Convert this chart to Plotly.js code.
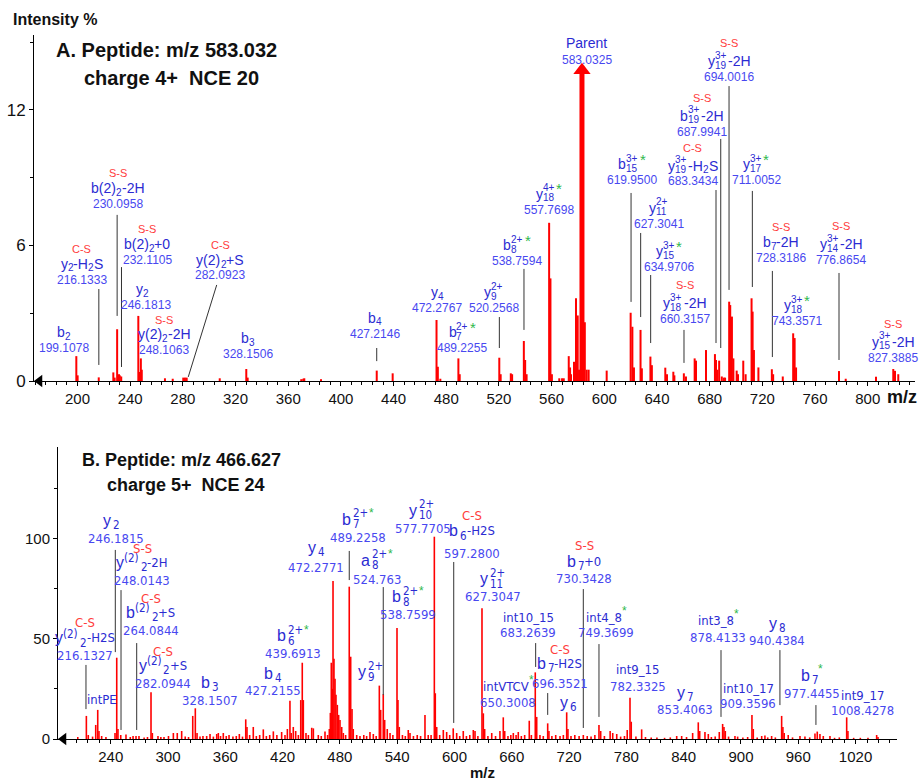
<!DOCTYPE html>
<html><head><meta charset="utf-8">
<script src="https://cdn.plot.ly/plotly-3.0.1.min.js"></script>
<style>body{margin:0;background:#fff}#chart{width:920px;height:783px}</style>
</head><body><div id="chart"></div>
<script>
// ---------------- DATA : panel A (m/z 583.032, 4+, NCE 20) ----------------
const topMz = [199.1,200.1,216.13,227.2,228.2,230.1,231.5,232.1,233.2,246.18,246.8,248.1,248.8,266.4,272.3,280.3,281.6,282.9,308.0,328.15,329.2,369.9,371.4,372.2,384.9,427.2,439.3,472.6,473.6,475.5,489.2,490.2,520.26,521.3,529.0,530.0,538.9,539.9,541.0,558.1,559.1,560.2,565.8,567.9,569.2,573.0,574.0,574.7,577.0,578.5,579.8,580.8,585.2,586.6,588.1,601.8,620.0,621.3,622.5,627.5,628.5,635.0,636.1,646.3,647.6,652.4,653.2,660.4,662.0,668.6,669.6,677.2,684.0,684.8,685.8,687.2,689.2,690.7,691.7,694.8,695.6,696.9,698.0,700.5,701.5,705.5,707.3,711.8,712.6,713.6,717.0,727.2,728.2,735.5,743.4,744.5,745.6,778.2,783.3,806.3,819.4,820.7,823.2];
const topInt = [1.1,0.25,0.16,0.38,0.15,2.29,0.3,0.25,0.2,2.88,0.4,1.0,0.5,0.12,0.1,0.15,0.15,0.15,0.12,0.53,0.15,0.08,0.1,0.12,0.08,0.46,0.34,2.7,0.63,0.1,1.0,0.3,1.03,0.3,0.34,0.3,1.77,0.93,0.3,7.0,4.54,0.3,0.12,0.12,0.12,1.1,0.6,0.3,0.85,3.66,2.9,0.5,2.6,0.5,0.5,0.46,3.02,2.4,0.6,2.26,0.56,1.08,0.7,0.59,0.3,0.41,0.25,0.34,0.2,1.0,0.9,1.37,1.19,0.93,0.5,0.9,0.2,0.15,0.15,3.51,3.36,2.85,1.0,0.46,0.3,0.9,0.3,3.66,3.07,1.37,0.6,0.52,0.3,0.2,2.11,1.9,0.6,0.44,0.1,0.19,0.53,0.45,0.3];
const topParentMz = [583.0325];
const topParentInt = [13.6];
const topPrecursorMz = [583.032];
const topXTicks = [200,240,280,320,360,400,440,480,520,560,600,640,680,720,760,800];
const topYTicks = [0,6,12];

// ---------------- DATA : panel B (m/z 466.627, 5+, NCE 24) ----------------
const botMz = [205.5,214.5,216.5,221.0,224.3,226.4,227.7,230.5,235.0,244.5,246.3,247.6,250.5,256.0,260.5,263.4,266.5,269.6,275.0,278.5,282.2,283.6,289.5,292.5,295.8,300.5,305.6,309.7,314.3,318.0,321.5,325.9,328.6,330.4,333.5,336.6,340.5,344.0,347.5,351.0,352.7,355.0,357.9,361.0,363.9,368.0,371.5,374.7,378.0,381.4,382.7,385.5,389.3,392.5,396.0,399.8,403.0,406.5,410.3,414.0,419.0,422.5,425.0,427.7,429.0,431.2,433.7,436.5,439.0,440.6,441.7,444.5,447.0,450.5,452.2,457.4,460.5,464.4,467.1,468.9,470.0,471.0,472.0,472.8,473.8,474.9,475.9,477.3,478.7,480.1,481.9,483.6,486.0,489.8,491.3,492.7,494.0,497.6,501.0,505.0,508.0,511.5,515.0,518.0,521.3,522.7,525.4,526.9,529.6,532.5,535.5,539.8,540.8,542.2,545.5,548.5,551.6,553.4,557.0,561.0,564.5,569.1,572.5,575.5,578.9,579.9,581.4,584.5,588.3,591.8,595.0,598.7,602.3,605.5,609.2,612.5,616.0,619.7,621.5,624.5,628.8,630.2,631.6,635.0,639.0,643.0,647.6,651.1,652.6,656.0,659.0,661.6,664.5,666.8,670.0,673.5,678.3,680.5,684.6,686.1,689.5,693.0,697.6,698.9,702.0,706.0,710.5,714.0,717.5,718.8,722.0,726.0,730.5,734.9,739.0,743.0,747.0,751.3,753.1,757.0,763.0,765.7,769.9,774.0,778.0,780.9,783.8,785.1,790.0,796.0,800.0,806.0,812.0,820.0,826.0,832.7,837.9,843.0,849.4,855.3,856.8,862.3,865.8,869.0,873.0,877.3,880.8,882.2,883.6,887.0,893.7,896.5,902.0,907.0,911.5,912.9,917.0,921.7,925.1,928.0,932.1,936.0,942.6,943.9,945.3,949.5,954.0,961.8,967.0,972.0,977.5,979.9,982.7,986.2,993.2,998.0,1003.0,1010.7,1012.0,1018.0,1025.0,1033.0,1042.1,1043.5];
const botInt = [1.0,11.5,2,1.2,7,14.5,4,1.5,1.0,3,40.5,5,2,2.3,1.0,1.5,1.5,1.5,0.8,1.0,23.3,3,1.5,1.0,1.0,1.5,3,3,4,1.2,1.0,11.5,15.3,3,1.2,1.5,1.5,2.5,1.2,2.5,3,1.5,3,1.5,2,1.2,1.5,2.5,1.2,9.8,6,2,6,1.5,2,4.8,1.5,2,3.8,2,3.5,2,5,19.1,3,6,4,2,19.4,38,19.4,3,2,5.6,5.3,2,1.5,3.7,2,5,13,38,25,78.7,40,30,22,17,12,9.5,6,3,2,75.9,41,15,5,2,1.5,2,1.5,3.5,2.5,1.5,26.6,14.5,22.3,9.5,5,3,2,55.3,19.4,6,2,1.5,4.5,3,1.5,2,1.5,12,2,2,100.8,22.8,6,2,4.5,3.5,2,5.3,3,1.5,4,1.5,2,4.5,4,1.5,65.1,12.8,5,1.5,3,1.5,4,10.8,4,1.5,2,3,2,3.5,1.5,2,9.1,2,33.2,11,2,1.5,7.8,4,1.5,2,1.5,2,13.3,5,1.5,2,1.5,2,1.5,1.2,2,7,4,1.5,4,3,2.5,1.2,1.5,4.5,20.6,8.6,1.2,4.8,1.0,0.8,0.8,0.6,0.8,1.5,1.5,1.0,3,8.3,4,3.5,2.5,1.0,1.2,3.5,7.5,6,4,1.2,1.5,1.2,0.8,1.0,12,5,0.8,1.5,1.8,0.8,1.5,0.8,11.5,6,3,2,0.8,1.5,1.2,0.8,2.8,3.7,2.5,1.5,1.5,0.6,0.8,10.8,4,0.6,0.6,0.6,2,1];
const botPrecursorMz = [466.627];
const botXTicks = [240,300,360,420,480,540,600,660,720,780,840,900,960,1020];
const botYTicks = [0,50,100];

// ---------------- annotation label specs ----------------
// name tokens: plain = base font, '_x' subscript, '~x' raised small, '.x' small text, '*' green star, [sub,sup] stacked
const topLabels = [
  {name:['b','_2'], num:'199.1078', at:[189.7,1.46]},
  {tag:'C-S', name:['y','_2','-H','_2','S'], num:'216.1333', at:[203.4,4.47], line:[216.2,4.07,0.71]},
  {tag:'S-S', name:['b(2)','_2','-2H'], num:'230.0958', at:[230.75,7.83], line:[230.1,7.35,2.88]},
  {tag:'S-S', name:['b(2)','_2','+0'], num:'232.1105', at:[252.8,5.35], line:[233.4,5.04,0.62]},
  {name:['y','_2'], num:'246.1813', at:[251.9,3.36], nx:-4},
  {tag:'S-S', name:['y(2)','_2','-2H'], num:'248.1063', at:[265.7,1.37], dt:14},
  {tag:'C-S', name:['y(2)','_2','+S'], num:'282.0923', at:[308.2,4.69], dn:15, line:[305.7,4.25,0.18,284.1]},
  {name:['b','_3'], num:'328.1506', at:[329.5,1.19]},
  {name:['b','_4'], num:'427.2146', at:[425.9,2.08], line:[427.2,1.46,0.88]},
  {name:['y','_4'], num:'472.2767', at:[472.9,3.23]},
  {name:['b',['7','2+'],'*'], num:'489.2255', at:[492.0,1.46]},
  {name:['y',['9','2+']], num:'520.2568', at:[516.2,3.23], line:[520.3,2.83,1.46]},
  {name:['b',['8','2+'],'*'], num:'538.7594', at:[533.7,5.31], line:[539.0,4.96,2.26]},
  {name:['y',['18','4+'],'*'], num:'557.7698', at:[558.0,7.57]},
  {name:['Parent'], num:'583.0325', at:[586.9,14.2], dn:17},
  {name:['b',['15','3+'],'*'], num:'619.9500', at:[621.0,8.89], line:[620.3,8.32,3.5]},
  {name:['y',['11','2+']], num:'627.3041', at:[641.5,6.95], line:[627.6,6.55,2.83]},
  {name:['y',['15','3+'],'*'], num:'634.9706', at:[649.1,5.04], line:[635.2,4.69,1.68]},
  {tag:'S-S', name:['y',['18','3+'],'-2H'], num:'660.3157', at:[661.2,2.74], line:[660.5,2.26,0.8]},
  {tag:'C-S', name:['y',['19','3+'],'-H','_2','S'], num:'683.3434', at:[667.3,8.85], dn:15, line:[684.8,8.45,1.68]},
  {tag:'S-S', name:['b',['19','3+'],'-2H'], num:'687.9941', at:[674.2,11.02], line:[688.4,10.71,1.46]},
  {tag:'S-S', name:['y',['19','3+'],'-2H'], num:'694.0016', at:[694.7,13.45], line:[694.7,13.05,4.03]},
  {name:['y',['17','3+'],'*'], num:'711.0052', at:[715.2,8.89], line:[712.4,8.41,4.16]},
  {tag:'S-S', name:['b','_7','-2H'], num:'728.3186', at:[734.2,5.44], line:[727.6,4.87,1.06]},
  {name:['y',['18','3+'],'*'], num:'743.3571', at:[746.3,2.65]},
  {tag:'S-S', name:['y',['14','3+'],'-2H'], num:'776.8654', at:[779.8,5.35], line:[778.2,4.78,0.93]},
  {tag:'S-S', name:['y',['15','3+'],'-2H'], num:'827.3885', at:[819.2,1.02]}
];
const botLabels = [
  {tag:'C-S', name:['y','~(2)','_2','.-H2S'], num:'216.1327', at:[213.1,41.4], dn:18, dt:15, line:[214.1,36.9,14.9]},
  {name:['.intPE'], at:[231,19.9]},
  {name:['y','_2'], num:'246.1815', at:[245.5,100.1], dn:18, nx:-5, line:[244.8,94.2,43.3]},
  {tag:'S-S', name:['y','~(2)','_2','.-2H'], num:'248.0143', at:[272.8,79.2], dn:18, dt:14, line:[250.8,74.2,4.5]},
  {tag:'C-S', name:['b','~(2)','_2','.+S'], num:'264.0844', at:[282.2,54.3], dn:18, dt:14, line:[267.2,47.8,4.5]},
  {tag:'C-S', name:['y','~(2)','_2','.+S'], num:'282.0944', at:[294.8,27.9], dn:18, dt:14},
  {name:['b','_3'], num:'328.1507', at:[344,19.4], dn:18},
  {name:['b','_4'], num:'427.2155', at:[410,24.4], dn:17},
  {name:['b',['6','2+'],'*'], num:'439.6913', at:[431,42.4], dn:18},
  {name:['y','_4'], num:'472.2771', at:[455,85.7], dn:20},
  {name:['b',['7','2+'],'*'], num:'489.2258', at:[499,100.6], dn:18, line:[489.8,93.7,79.2]},
  {name:['a',['8','2+'],'*'], num:'524.763', at:[518.8,79.7], dn:19, line:[525.4,75.7,21.9]},
  {name:['b',['8','2+'],'*'], num:'538.7599', at:[551.4,61.8], dn:18},
  {name:['y',['9','2+']], at:[512.6,33.4]},
  {name:['y',['10','2+']], num:'577.7705', at:[566.5,105.1], dn:18},
  {tag:'C-S', name:['b','_6','.-H2S'], num:'597.2800', at:[618.5,92.2], dn:23, dt:15, line:[599.2,88.2,8]},
  {name:['y',['11','2+']], num:'627.3047', at:[640.5,70.8], dn:18},
  {name:['.int10_15'], num:'683.2639', at:[677,53.3], dn:15, line:[685,47.8,35.9]},
  {tag:'C-S', name:['b','_7','.-H2S'], num:'696.3521', at:[710.0,27.9], dn:20, dt:14, line:[697.6,22.9,12]},
  {name:['.intVTCV','*'], num:'650.3008', at:[656.2,18.4], dn:16},
  {name:['y','_6'], at:[718.8,18.4]},
  {tag:'S-S', name:['b','_7','.+0'], num:'730.3428', at:[735.7,80.2], dn:17, dt:16, line:[734.9,74.7,5.5]},
  {name:['.int4_8','*'], num:'749.3699', at:[758.7,53.3], dn:15, line:[751.3,47.3,11]},
  {name:['.int9_15'], num:'782.3325', at:[792.3,26.4], dn:17},
  {name:['y','_7'], num:'853.4063', at:[841.4,14.9], dn:17},
  {name:['.int3_8','*'], num:'878.4133', at:[876,50.8], dn:17, line:[879.1,44.3,11]},
  {name:['.int10_17'], num:'909.3596', at:[907.4,17.9], dn:15},
  {name:['y','_8'], num:'940.4384', at:[937.7,49.3], dn:17, line:[940.8,44.3,16.9]},
  {name:['b','_7','*'], num:'977.4455', at:[974.4,22.9], dn:18, line:[978.5,16.9,7]},
  {name:['.int9_17'], num:'1008.4278', at:[1027.5,14.4], dn:15}
];

// ---------------- styling ----------------
const FONT = 'Arial, "Liberation Sans", Helvetica, sans-serif';
const NARROW = '"Liberation Sans Narrow", "Arial Narrow", "DejaVu Sans Condensed", sans-serif';
const NAME_C = '#2b2bd2', NUM_C = '#4848f0', TAG_C = '#ff3c3c', STAR_C = '#2fb84a', PEAK_C = '#ff0000';

const styleTop = {base:{size:14,fam:FONT}, small:{size:10,fam:FONT}, dot:{size:14,fam:FONT},
  num:{size:12,fam:FONT}, tag:{size:11,fam:FONT}, star:{size:15,dy:5},
  subDy:-4, supDy:6, raiseDy:4, dn:16, dt:15, dtSup:18, subGap:0, stackGap:2};
const styleBot = {base:{size:16,fam:FONT}, small:{size:11.5,fam:NARROW}, dot:{size:13,fam:NARROW},
  num:{size:13,fam:NARROW}, tag:{size:13,fam:NARROW}, star:{size:12,dy:6},
  subDy:-5, supDy:6, raiseDy:4, dn:17, dt:14, dtSup:16, subGap:2, stackGap:1};

const ctx = document.createElement('canvas').getContext('2d');
function tw(t, f){ ctx.font = f.size + 'px ' + f.fam; return ctx.measureText(t).width; }

function sticks(mz, it){
  const x=[], y=[];
  mz.forEach((m,i)=>{ x.push(m,m,null); y.push(0,it[i],null); });
  return {x, y};
}

function addLabels(labels, st, xr, yr, anns, shapes){
  labels.forEach(L=>{
    const base = {xref:xr, yref:yr, x:L.at[0], y:L.at[1], showarrow:false, borderpad:0, borderwidth:0};
    if (L.num) anns.push(Object.assign({}, base, {text:L.num, xanchor:'center', yanchor:'middle',
      font:{family:st.num.fam, size:st.num.size, color:NUM_C}}));
    const dn = L.num ? (L.dn !== undefined ? L.dn : st.dn) : 0;
    const pieces = []; let w = 0; let hasSup = false;
    L.name.forEach((tok)=>{
      if (Array.isArray(tok)) {
        hasSup = true;
        const ws = tw(tok[0], st.small), wp = tw(tok[1], st.small);
        pieces.push({t:tok[0], x:w+st.subGap, dy:st.subDy, f:st.small, c:NAME_C});
        pieces.push({t:tok[1], x:w+st.subGap, dy:st.supDy, f:st.small, c:NAME_C});
        w += st.subGap + Math.max(ws, wp) + st.stackGap;
      } else if (tok === '*') {
        const f = {size:st.star.size, fam:FONT};
        pieces.push({t:'*', x:w, dy:st.star.dy, f, c:STAR_C});
        w += tw('*', f);
      } else if (tok[0] === '_') {
        const t = tok.slice(1);
        pieces.push({t, x:w+st.subGap, dy:st.subDy, f:st.small, c:NAME_C});
        w += st.subGap + tw(t, st.small);
      } else if (tok[0] === '~') {
        const t = tok.slice(1);
        pieces.push({t, x:w, dy:st.raiseDy, f:st.small, c:NAME_C});
        w += tw(t, st.small);
      } else if (tok[0] === '.') {
        const t = tok.slice(1);
        pieces.push({t, x:w, dy:0, f:st.dot, c:NAME_C});
        w += tw(t, st.dot);
      } else {
        pieces.push({t:tok, x:w, dy:0, f:st.base, c:NAME_C});
        w += tw(tok, st.base);
      }
    });
    const x0 = -w/2 + (L.nx || 0);
    pieces.forEach(p=>anns.push(Object.assign({}, base, {text:p.t, xanchor:'left', yanchor:'middle',
      xshift:x0+p.x, yshift:dn+p.dy, font:{family:p.f.fam, size:p.f.size, color:p.c}})));
    if (L.tag) {
      const dt = L.dt !== undefined ? L.dt : (hasSup ? st.dtSup : st.dt);
      anns.push(Object.assign({}, base, {text:L.tag, xanchor:'center', yanchor:'middle', yshift:dn+dt,
        font:{family:st.tag.fam, size:st.tag.size, color:TAG_C}}));
    }
    if (L.line) {
      const l = L.line;
      shapes.push({type:'line', xref:xr, yref:yr, x0:l[0], y0:l[1], x1:(l[3]!==undefined?l[3]:l[0]), y1:l[2],
        line:{color:'#333', width:1}});
    }
  });
}

// ---------------- axes geometry ----------------
const W = 920, H = 783;
const topXRange = [166.97, 835.9], topYRange = [0, 15.31];
const botXRange = [184.8, 1063.4], botYRange = [0, 145.5];
const topPxPerMz = (915-34)/(topXRange[1]-topXRange[0]);
const botPxPerMz = (897-58)/(botXRange[1]-botXRange[0]);
const topPxPerInt = (381-35)/topYRange[1];
const botPxPerInt = (739-447)/botYRange[1];

const traces = [];
const ts = sticks(topMz, topInt);
traces.push({type:'scatter', mode:'lines', x:ts.x, y:ts.y, xaxis:'x', yaxis:'y',
  line:{color:PEAK_C, width:2}, hoverinfo:'skip', showlegend:false});
const ps = sticks(topParentMz, topParentInt);
traces.push({type:'scatter', mode:'lines', x:ps.x, y:ps.y, xaxis:'x', yaxis:'y',
  line:{color:PEAK_C, width:5}, hoverinfo:'skip', showlegend:false});
traces.push({type:'scatter', mode:'markers', x:topParentMz, y:topParentInt.map(v=>v+3.5/topPxPerInt),
  xaxis:'x', yaxis:'y', marker:{symbol:'triangle-up', size:15, color:PEAK_C}, cliponaxis:false,
  hoverinfo:'skip', showlegend:false});
const bs = sticks(botMz, botInt);
traces.push({type:'scatter', mode:'lines', x:bs.x, y:bs.y, xaxis:'x2', yaxis:'y2',
  line:{color:PEAK_C, width:1.6}, hoverinfo:'skip', showlegend:false});
// precursor markers below the axes and start-of-axis arrows
traces.push({type:'scatter', mode:'markers', x:topPrecursorMz, y:[-5.5/topPxPerInt], xaxis:'x', yaxis:'y',
  marker:{symbol:'triangle-up', size:11, color:'#000'}, cliponaxis:false, hoverinfo:'skip', showlegend:false});
traces.push({type:'scatter', mode:'markers', x:botPrecursorMz, y:[-5.5/botPxPerInt], xaxis:'x2', yaxis:'y2',
  marker:{symbol:'triangle-up', size:11, color:'#000'}, cliponaxis:false, hoverinfo:'skip', showlegend:false});
traces.push({type:'scatter', mode:'markers', x:[topXRange[0]+5.5/topPxPerMz], y:[0], xaxis:'x', yaxis:'y',
  marker:{symbol:'triangle-left', size:11, color:'#000'}, cliponaxis:false, hoverinfo:'skip', showlegend:false});
traces.push({type:'scatter', mode:'markers', x:[botXRange[0]+5.5/botPxPerMz], y:[0], xaxis:'x2', yaxis:'y2',
  marker:{symbol:'triangle-left', size:11, color:'#000'}, cliponaxis:false, hoverinfo:'skip', showlegend:false});

const anns = [], shapes = [];
addLabels(topLabels, styleTop, 'x', 'y', anns, shapes);
addLabels(botLabels, styleBot, 'x2', 'y2', anns, shapes);

function paperText(text, px, py, size, xanchor){
  anns.push({xref:'paper', yref:'paper', x:px/W, y:1-py/H, text, showarrow:false, xanchor:xanchor||'center',
    yanchor:'middle', borderpad:0, font:{family:FONT, size, color:'#111'}});
}
paperText('<b>Intensity %</b>', 12, 20, 16, 'left');
paperText('<b>A. Peptide: m/z 583.032</b>', 166, 50, 20);
paperText('<b>charge 4+\u00a0\u00a0NCE 20</b>', 171, 78, 20);
paperText('<b>B. Peptide: m/z 466.627</b>', 181, 460, 18);
paperText('<b>charge 5+\u00a0\u00a0NCE 24</b>', 186, 485, 18);
paperText('<b>m/z</b>', 902, 397, 18);
paperText('<b>m/z</b>', 482, 772, 15);

const axBase = {showline:true, linecolor:'#000', linewidth:1, ticks:'outside', ticklen:4, tickcolor:'#000',
  showgrid:false, zeroline:false, fixedrange:true};
const layout = {
  width:W, height:H, margin:{l:0, r:0, t:0, b:0}, paper_bgcolor:'#fff', plot_bgcolor:'#fff',
  showlegend:false, hovermode:false,
  xaxis:Object.assign({}, axBase, {domain:[34/W, 915/W], range:topXRange, anchor:'y', tickmode:'array',
    tickvals:topXTicks, ticktext:topXTicks.map(String), tickfont:{family:FONT, size:15, color:'#111'},
    minor:{tickmode:'linear', tick0:0, dtick:8, ticks:'outside', ticklen:3, tickcolor:'#000'}}),
  yaxis:Object.assign({}, axBase, {domain:[1-381/H, 1-35/H], range:topYRange, anchor:'x', tickmode:'array',
    tickvals:topYTicks, ticktext:topYTicks.map(String), tickfont:{family:FONT, size:17, color:'#111'},
    minor:{tickmode:'linear', tick0:0, dtick:3, ticks:'outside', ticklen:3, tickcolor:'#000'}}),
  xaxis2:Object.assign({}, axBase, {domain:[58/W, 897/W], range:botXRange, anchor:'y2', tickmode:'array',
    tickvals:botXTicks, ticktext:botXTicks.map(String), tickfont:{family:FONT, size:15, color:'#111'},
    minor:{tickmode:'linear', tick0:0, dtick:12, ticks:'outside', ticklen:3, tickcolor:'#000'}}),
  yaxis2:Object.assign({}, axBase, {domain:[1-739/H, 1-447/H], range:botYRange, anchor:'x2', tickmode:'array',
    tickvals:botYTicks, ticktext:botYTicks.map(String), tickfont:{family:FONT, size:15, color:'#111'},
    minor:{tickmode:'linear', tick0:0, dtick:25, ticks:'outside', ticklen:3, tickcolor:'#000'}}),
  annotations:anns, shapes:shapes
};
Plotly.newPlot('chart', traces, layout, {staticPlot:true, displayModeBar:false});
</script>
</body></html>
